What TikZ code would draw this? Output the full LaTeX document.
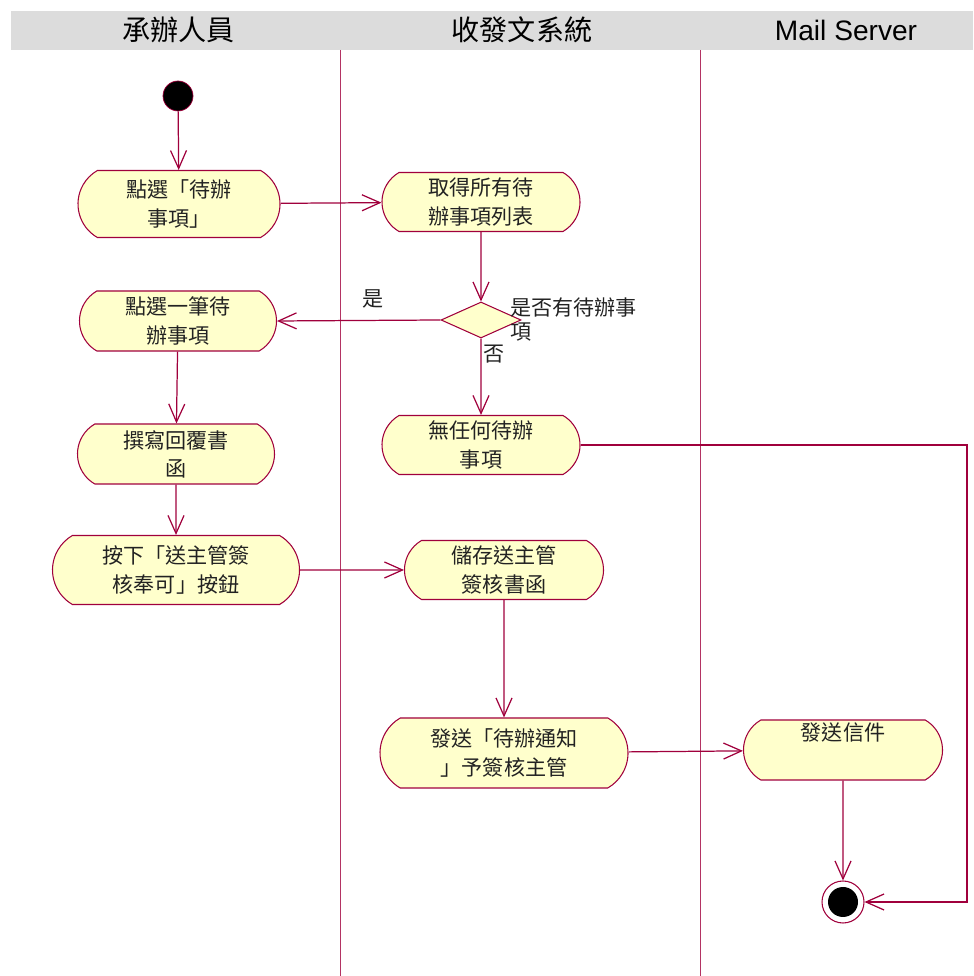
\documentclass[tikz,border=0pt]{standalone}
\usepackage{fontspec}
\setmainfont{Noto Sans CJK TC}
\newfontfamily\latinsans{Liberation Sans}
\usetikzlibrary{shapes.misc,shapes.geometric,arrows.meta}
\definecolor{umlline}{HTML}{A0003C}
\definecolor{umlfill}{HTML}{FFFFCC}
\definecolor{lanegray}{HTML}{DCDCDC}
\definecolor{umltext}{HTML}{222222}

\begin{document}
\begin{tikzpicture}[
    activity/.style={rounded rectangle, rounded rectangle arc length=120,
        draw=umlline, fill=umlfill, line width=0.6pt, inner sep=0pt,
        align=center, text=umltext, font=\fontsize{12}{16}\selectfont},
    choice/.style={diamond, draw=umlline, fill=umlfill, line width=0.6pt,
        inner sep=0pt, minimum width=1.6cm, minimum height=0.72cm},
    flow/.style={draw=umlline, line width=0.7pt,
        -{Straight Barb[length=0.36cm,width=0.32cm]}},
    lanetitle/.style={font=\fontsize{16}{18}\selectfont, text=black},
    note/.style={text=umltext, font=\fontsize{12}{14}\selectfont, inner sep=0pt}
]
\useasboundingbox (0,0) rectangle (19.46,19.52);

% Drawing swimlane header
\fill [lanegray] (0.22,18.52) rectangle (19.46,19.30);%
\node [lanetitle] (laneA) at (3.57,18.92) {承辦人員};%
\node [lanetitle] (laneB) at (10.44,18.92) {收發文系統};%
\node [lanetitle, font=\latinsans\fontsize{16}{18}\selectfont] (laneC) at (16.92,18.92) {Mail Server};%

% Drawing swimlane borders
\draw [umlline!80, line width=0.5pt] (6.80,18.52) -- (6.80,0);%
\draw [umlline!80, line width=0.5pt] (14.00,18.52) -- (14.00,0);%

% Marking initial state
\node [circle, fill=black, draw=umlline, minimum size=0.6cm, inner sep=0pt] (start) at (3.56,17.60) {};%

% Drawing activities of lane A
\node [activity, minimum width=4.04cm, minimum height=1.34cm] (pickTodo) at (3.58,15.44) {點選「待辦\\事項」};%
\node [activity, minimum width=3.94cm, minimum height=1.2cm] (pickOne) at (3.56,13.10) {點選一筆待\\辦事項};%
\node [activity, minimum width=3.94cm, minimum height=1.2cm] (writeReply) at (3.52,10.44) {撰寫回覆書\\函};%
\node [activity, minimum width=4.94cm, minimum height=1.38cm] (pressSend) at (3.52,8.12) {按下「送主管簽\\核奉可」按鈕};%

% Drawing activities of lane B
\node [activity, minimum width=3.96cm, minimum height=1.18cm] (fetchList) at (9.62,15.48) {取得所有待\\辦事項列表};%
\node [choice] (hasTodo) at (9.62,13.12) {};%
\node [activity, minimum width=3.96cm, minimum height=1.18cm] (noTodo) at (9.62,10.62) {無任何待辦\\事項};%
\node [activity, minimum width=3.98cm, minimum height=1.18cm] (saveDoc) at (10.08,8.12) {儲存送主管\\簽核書函};%
\node [activity, minimum width=4.96cm, minimum height=1.4cm] (notify) at (10.08,4.46) {發送「待辦通知\\」予簽核主管};%

% Drawing activity of lane C
\node [activity, minimum width=3.98cm, minimum height=1.2cm] (sendMail) at (16.86,4.52) {發送信件\\ \strut};%

% Marking final state
\node [circle, draw=umlline, fill=white, line width=0.6pt, minimum size=0.84cm, inner sep=0pt] (finish) at (16.86,1.48) {};%
\node [circle, fill=black, minimum size=0.6cm, inner sep=0pt] (finishDot) at (finish) {};%

% Marking guard texts
\node [note, anchor=north west, align=left] (hasTodoText) at (10.2,13.58) {是否有待辦事\\項};%
\node [note] (yesText) at (7.46,13.54) {是};%
\node [note] (noText) at (9.88,12.44) {否};%

% Drawing transitions
\draw [flow] (start) -- (pickTodo);%
\draw [flow] (pickTodo) -- (fetchList);%
\draw [flow] (fetchList) -- (hasTodo);%
\draw [flow] (hasTodo.west) -- (pickOne.east);%
\draw [flow] (hasTodo) -- (noTodo);%
\draw [flow] (pickOne) -- (writeReply);%
\draw [flow] (writeReply) -- (pressSend);%
\draw [flow] (pressSend) -- (saveDoc);%
\draw [flow] (saveDoc) -- (notify);%
\draw [flow] (notify) -- (sendMail);%
\draw [flow] (sendMail) -- (finish);%
\coordinate (turn) at (19.34,10.62);
\draw [flow] (noTodo.east) -- (turn) |- (finish.east);%
\end{tikzpicture}
\end{document}
